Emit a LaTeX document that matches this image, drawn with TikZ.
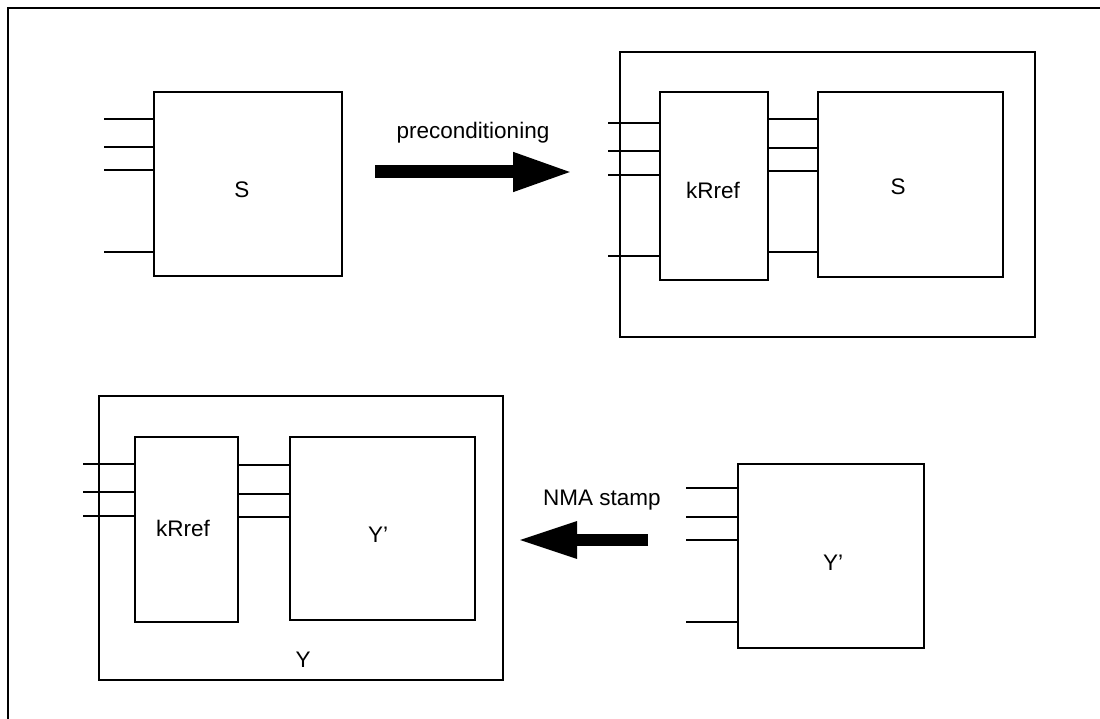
\documentclass[tikz,border=0pt]{standalone}
\usepackage{fontspec}
\setmainfont{Liberation Sans}
\usetikzlibrary{arrows.meta}
\begin{document}
\begin{tikzpicture}[x=1pt,y=-1pt,line width=2.3pt,
  box/.style={draw,rectangle,inner sep=0pt,outer sep=0pt,anchor=north west},
  lbl/.style={font=\fontsize{22.5}{26}\selectfont,inner sep=0pt},
  bigarrow/.style={line width=13pt,-{Triangle[length=60pt,width=36pt]}}]
\useasboundingbox (0,0) rectangle (1100,719);
% outer frame (top and left edges)
\coordinate (fr) at (1100,8);
\coordinate (fc) at (8,8);
\coordinate (fb) at (8,719);
\draw (fr) -- (fc) -- (fb);

% ---------- top left: S ----------
\node[box,minimum width=188pt,minimum height=184pt] (s1) at (154,92) {};
\node[lbl] (s1l) at (242,190) {S};
\foreach \y [count=\i] in {119,147,170,252}{
  \coordinate (s1in\i) at (104,\y);
  \draw (s1in\i) -- (s1in\i -| s1.west);
}

% preconditioning arrow
\coordinate (a1s) at (375,172);
\coordinate (a1e) at (573,172);
\draw[bigarrow] (a1s) -- (a1e);
\node[lbl] (a1l) at (473,133) {preconditioning};

% ---------- top right ----------
\node[box,minimum width=415pt,minimum height=285pt] (o2) at (620,52) {};
\node[box,minimum width=108pt,minimum height=188pt] (k2) at (660,92) {};
\node[box,minimum width=185pt,minimum height=185pt] (s2) at (818,92) {};
\node[lbl] (k2l) at (713,190) {kRref};
\node[lbl] (s2l) at (898,187) {S};
\foreach \y [count=\i] in {123,151,175,256}{
  \coordinate (k2in\i) at (608,\y);
  \draw (k2in\i) -- (k2in\i -| k2.west);
}
\foreach \y [count=\i] in {119,148,171,252}{
  \coordinate (k2o\i) at (700,\y);
  \draw (k2o\i -| k2.east) -- (k2o\i -| s2.west);
}

% ---------- bottom left ----------
\node[box,minimum width=404pt,minimum height=284pt] (o3) at (99,396) {};
\node[box,minimum width=103pt,minimum height=185pt] (k3) at (135,437) {};
\node[box,minimum width=185pt,minimum height=183pt] (y3) at (290,437) {};
\node[lbl] (k3l) at (183,528) {kRref};
\node[lbl] (y3l) at (378,535) {Y’};
\node[lbl] (o3l) at (303,660) {Y};
\foreach \y [count=\i] in {464,492,516}{
  \coordinate (k3in\i) at (83,\y);
  \draw (k3in\i) -- (k3in\i -| k3.west);
}
\foreach \y [count=\i] in {465,494,517}{
  \coordinate (k3o\i) at (260,\y);
  \draw (k3o\i -| k3.east) -- (k3o\i -| y3.west);
}

% NMA stamp arrow
\coordinate (a2s) at (648,540);
\coordinate (a2e) at (517,540);
\draw[line width=12pt,-{Triangle[length=60pt,width=34pt]}] (a2s) -- (a2e);
\node[lbl] (a2l) at (602,500) {NMA stamp};

% ---------- bottom right: Y' ----------
\node[box,minimum width=186pt,minimum height=184pt] (y4) at (738,464) {};
\node[lbl] (y4l) at (833,563) {Y’};
\foreach \y [count=\i] in {488,517,540,622}{
  \coordinate (y4in\i) at (686,\y);
  \draw (y4in\i) -- (y4in\i -| y4.west);
}
\end{tikzpicture}
\end{document}
